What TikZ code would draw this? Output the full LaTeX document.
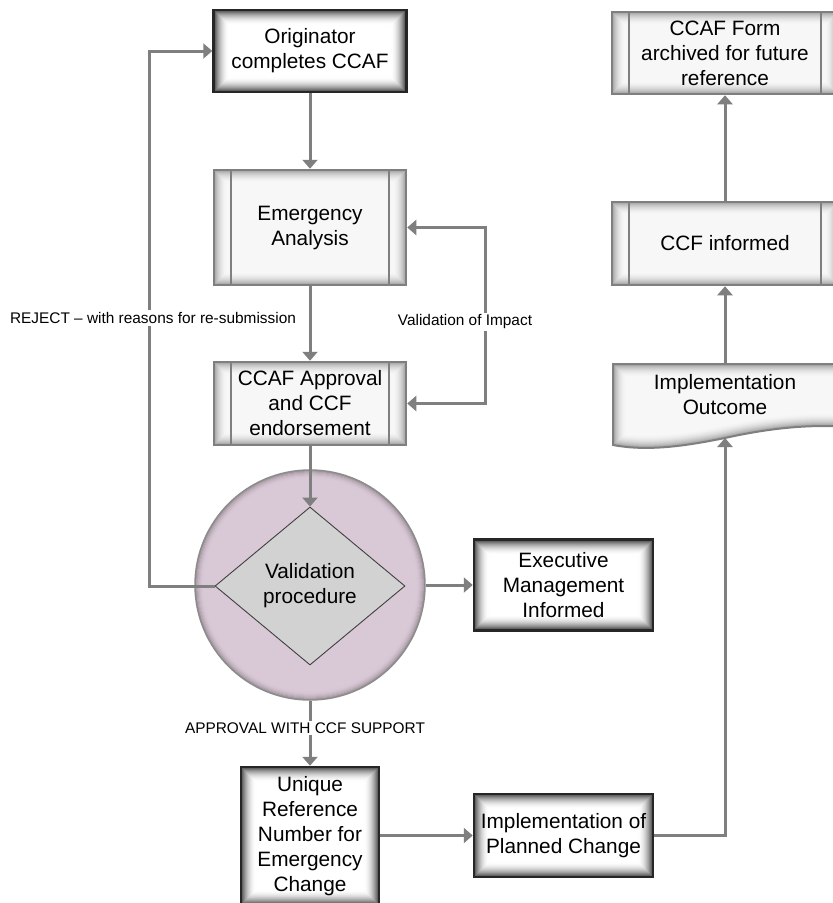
\documentclass[tikz,border=0pt]{standalone}
\usepackage{fontspec}
\setmainfont{Liberation Sans}
\usetikzlibrary{arrows.meta,shapes.geometric,calc}
\definecolor{linegray}{HTML}{7F7F7F}
\definecolor{circfill}{HTML}{D9C8D5}
\definecolor{diafill}{HTML}{D2D2D2}
\definecolor{boxfill}{HTML}{F7F7F7}
\tikzset{
  tip/.tip={Triangle[length=9pt,width=15pt]},
  conn/.style={draw=linegray, line width=3pt, -tip},
  bigtext/.style={align=center, inner sep=0pt, font=\fontsize{20.8}{25}\selectfont},
  smalltext/.style={fill=white, inner sep=2pt, font=\fontsize{15.4}{18}\selectfont},
  glowbox/.style={bigtext, draw=black!85, line width=2.5pt, fill=white,
    path picture={
      \foreach \ii in {1,...,15} {
        \pgfmathsetmacro\gl{80*(1-\ii/16)^2}
        \draw[black!\gl, line width=1.2pt]
          ([shift={(\ii pt,-\ii pt)}]path picture bounding box.north west) rectangle
          ([shift={(-\ii pt,\ii pt)}]path picture bounding box.south east);
      }
    }},
  procbox/.style={bigtext, draw=linegray, line width=2.5pt, fill=boxfill,
    path picture={
      \foreach \ii in {1,...,13} {
        \pgfmathsetmacro\gl{40*(1-\ii/14)^2}
        \draw[black!\gl!boxfill, line width=1.2pt]
          ([shift={(\ii pt,-\ii pt)}]path picture bounding box.north west) rectangle
          ([shift={(-\ii pt,\ii pt)}]path picture bounding box.south east);
      }
      \draw[linegray, line width=2pt]
        ([xshift=17pt]path picture bounding box.north west) -- ([xshift=17pt]path picture bounding box.south west)
        ([xshift=-17pt]path picture bounding box.north east) -- ([xshift=-17pt]path picture bounding box.south east);
    }},
}
\begin{document}
\begin{tikzpicture}[x=1pt,y=-1pt]
\useasboundingbox (0,0) rectangle (833,903);
\fill[white] (0,0) rectangle (833,903);

% left column
\node[glowbox, minimum width=193pt, minimum height=82pt] (orig) at (310,51) {Originator\\completes CCAF};
\node[procbox, minimum width=192pt, minimum height=115pt] (emerg) at (310,227.5) {Emergency\\Analysis};
\node[procbox, minimum width=192pt, minimum height=83pt] (appr) at (310,403.5) {CCAF Approval\\and CCF\\endorsement};

% validation circle and diamond
\node[circle, minimum size=230pt, inner sep=0pt, fill=circfill, draw=black!45, line width=1.5pt,
  path picture={
    \foreach \ii in {1,...,8} {
      \pgfmathsetmacro\gl{32*(1-\ii/9)^2}
      \draw[black!\gl!circfill, line width=1.2pt] (path picture bounding box.center) circle ({115-\ii});
    }
  }] (circ) at (310,585) {};
\node[diamond, minimum width=190pt, minimum height=158pt, inner sep=0pt, fill=diafill, draw=black!75, line width=0.9pt, bigtext] (dia) at (310,586) {Validation\\procedure};

\node[glowbox, minimum width=179pt, minimum height=91pt] (exec) at (563.5,585) {Executive\\Management\\Informed};
\node[glowbox, minimum width=138pt, minimum height=138pt] (uniq) at (310,836) {Unique\\Reference\\Number for\\Emergency\\Change};
\node[glowbox, minimum width=179pt, minimum height=83pt] (impl) at (563.5,835.5) {Implementation of\\Planned Change};

% right column
\node[procbox, minimum width=226pt, minimum height=82pt] (form) at (725,53) {CCAF Form\\archived for future\\reference};
\node[procbox, minimum width=226pt, minimum height=83pt] (ccfi) at (725,243.5) {CCF informed};

% document shape
\def\docpath{(613,364) -- (850,364) -- (850,427) .. controls (810,424) and (770,428) .. (725,438) .. controls (690,445) and (650,452) .. (613,445) -- cycle}
\fill[boxfill] \docpath;
\begin{scope}
  \clip \docpath;
  \foreach \ii in {13,...,1} {
    \pgfmathsetmacro\gl{40*(1-\ii/14)^2}
    \draw[black!\gl!boxfill, line width=2*\ii pt] \docpath;
  }
\end{scope}
\draw[linegray, line width=2pt] \docpath;
\node[bigtext] (outc) at (725,395) {Implementation\\Outcome};
\coordinate (outct) at (725,364);
\coordinate (outcb) at (725,438);

% connectors
\draw[conn] (orig) -- (emerg);
\draw[conn] (emerg) -- (appr);
\draw[conn] (appr.south) -- (dia.north);
\draw[conn, tip-tip] (emerg.east) -- ++(78,0) |- (appr.east);
\node[smalltext] (vlab) at (465,322) {Validation of Impact};
\draw[conn] (dia.west) -- ++(-65,0) |- (orig.west);
\node[smalltext] (rlab) at (153,318) {REJECT – with reasons for re-submission};
\draw[conn] (circ.east) -- (exec.west);
\draw[conn] (circ.south) -- (uniq.north);
\node[smalltext] (alab) at (305,728) {APPROVAL WITH CCF SUPPORT};
\draw[conn] (uniq.east |- impl.west) -- (impl.west);
\draw[conn] (impl.east) -| (outcb);
\draw[conn] (outct) -- (ccfi.south);
\draw[conn] (ccfi.north) -- (form.south);
\end{tikzpicture}
\end{document}
